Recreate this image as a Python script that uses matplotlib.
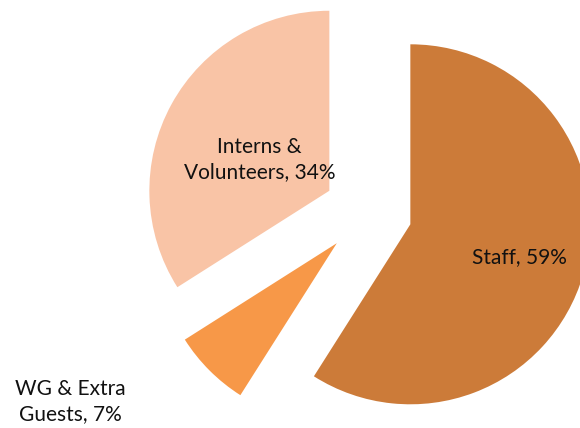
import numpy as np
import matplotlib.pyplot as plt

# Data
categories = ["Staff", "WG & Extra\nGuests", "Interns &\nVolunteers"]
shares = [59, 7, 34]
colors = ["#CC7B39", "#F79848", "#F9C4A6"]

plt.rcParams['font.family'] = ['Lato', 'DejaVu Sans']

fig = plt.figure(figsize=(5.8, 4.28), dpi=100)
ax = fig.add_axes([0, 0, 1, 1])

r = 180
center = (368, 216)
gap = 0.245 * r  # pie's explode is in data units
wedges, _ = ax.pie(shares, colors=colors, startangle=90, counterclock=False,
                   radius=r, center=center, explode=[gap] * 3,
                   wedgeprops=dict(linewidth=0), frame=True)
ax.set_xlim(0, 580)
ax.set_ylim(0, 428)
ax.set_aspect('equal')
ax.axis('off')

# Labels: distance from pie centre (in radii) and angle offset per slice
label_dist = [0.88, 1.96, 0.67]
angle_shift = [-0.5, -12.5, 3]
for w, cat, val, d, sh in zip(wedges, categories, shares, label_dist, angle_shift):
    mid = np.deg2rad((w.theta1 + w.theta2) / 2 + sh)
    x = center[0] + d * r * np.cos(mid)
    y = center[1] + d * r * np.sin(mid)
    ax.text(x, y, f"{cat}, {val}%", ha='center', va='center',
            fontsize=15, color='#111111', linespacing=1.35)

fig.savefig("out.png", dpi=100)
